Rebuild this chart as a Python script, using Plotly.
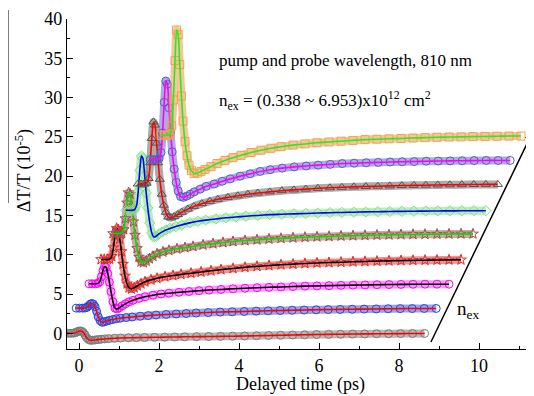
import plotly.graph_objects as go

# relative delay grid (ps) shared by every trace (measured from each trace's start)
t_rel = [0.00, 0.08, 0.16, 0.22, 0.27, 0.31, 0.35, 0.39, 0.43, 0.47, 0.51, 0.55, 0.60, 0.65, 0.70,
         0.76, 0.83, 0.91, 1.00, 1.10, 1.25, 1.40, 1.60, 1.80, 2.00, 2.25, 2.50, 2.75, 3.00, 3.30,
         3.60, 3.90, 4.20, 4.50, 4.80, 5.10, 5.40, 5.70, 6.00, 6.30, 6.60, 6.90, 7.20, 7.50, 7.80,
         8.10, 8.40, 8.70, 9.00]

# waterfall offsets: start time (ps) and vertical offset (1e-5) of each trace
t_start = [-0.36, -0.07, 0.25, 0.55, 0.85, 1.17, 1.47, 1.78, 2.05]
y_offset = [0.0, 3.2, 6.3, 9.4, 12.7, 15.65, 19.0, 22.1, 25.2]

# dT/T relative to each trace's baseline (1e-5), lowest to highest excitation density
s1 = [0, 0, 0, 0.02, 0.08, 0.18, 0.27, 0.3, 0.25, 0.1, -0.2, -0.55, -0.8, -0.9, -0.88, -0.85, -0.8,
      -0.76, -0.72, -0.68, -0.64, -0.6, -0.57, -0.55, -0.53, -0.51, -0.49, -0.47, -0.45, -0.43, -0.41,
      -0.39, -0.37, -0.34, -0.31, -0.28, -0.25, -0.22, -0.19, -0.16, -0.14, -0.12, -0.1, -0.08, -0.06,
      -0.05, -0.04, -0.03, -0.02]
s2 = [0, 0, 0, 0.02, 0.1, 0.3, 0.5, 0.6, 0.5, 0.2, -0.4, -1.1, -1.6, -1.8, -1.75, -1.65, -1.55, -1.45,
      -1.35, -1.28, -1.2, -1.12, -1.03, -0.95, -0.88, -0.8, -0.74, -0.68, -0.62, -0.56, -0.5, -0.46,
      -0.42, -0.38, -0.34, -0.3, -0.27, -0.24, -0.21, -0.18, -0.16, -0.14, -0.12, -0.1, -0.08, -0.06,
      -0.05, -0.04, -0.04]
s3 = [0, 0, 0, 0.05, 0.25, 0.9, 1.7, 2.2, 2.1, 1.3, 0.2, -1.0, -2.3, -3.1, -3.2, -3.05, -2.8, -2.55,
      -2.3, -2.1, -1.85, -1.65, -1.45, -1.3, -1.2, -1.08, -0.98, -0.88, -0.8, -0.72, -0.64, -0.57, -0.5,
      -0.45, -0.4, -0.35, -0.3, -0.27, -0.24, -0.2, -0.17, -0.15, -0.12, -0.1, -0.08, -0.06, -0.05,
      -0.05, -0.05]
s4 = [0, 0, 0, 0.05, 0.4, 1.5, 3.0, 3.95, 3.8, 2.6, 1.0, -0.6, -2.1, -3.1, -3.6, -3.75, -3.6, -3.35,
      -3.1, -2.85, -2.6, -2.4, -2.2, -2.05, -1.9, -1.75, -1.6, -1.45, -1.3, -1.15, -1.0, -0.88, -0.78,
      -0.68, -0.6, -0.52, -0.45, -0.4, -0.35, -0.3, -0.26, -0.22, -0.18, -0.15, -0.12, -0.1, -0.08,
      -0.06, -0.05]
s5 = [0, 0, 0, 0.1, 0.5, 1.9, 3.9, 5.2, 5.0, 3.4, 1.5, -0.2, -1.9, -3.0, -3.6, -3.7, -3.5, -3.2, -2.9,
      -2.6, -2.35, -2.15, -1.95, -1.8, -1.65, -1.45, -1.3, -1.15, -1.02, -0.9, -0.8, -0.7, -0.62, -0.55,
      -0.48, -0.42, -0.37, -0.32, -0.28, -0.24, -0.2, -0.17, -0.14, -0.12, -0.1, -0.08, -0.06, -0.05,
      -0.05]
s6 = [0, 0, 0, 0.1, 0.6, 2.4, 5.1, 6.9, 6.6, 4.5, 2.2, 0.3, -1.6, -2.9, -3.4, -3.3, -3.0, -2.75, -2.5,
      -2.3, -2.05, -1.85, -1.6, -1.4, -1.25, -1.1, -0.95, -0.85, -0.75, -0.65, -0.55, -0.5, -0.45, -0.4,
      -0.35, -0.3, -0.27, -0.24, -0.2, -0.18, -0.15, -0.13, -0.11, -0.1, -0.08, -0.07, -0.06, -0.05,
      -0.05]
s7 = [0, 0, 0, 0.1, 0.7, 2.7, 5.8, 7.9, 7.5, 5.2, 2.7, 0.6, -1.3, -2.7, -3.6, -4.2, -4.3, -4.15, -3.9,
      -3.6, -3.2, -2.85, -2.5, -2.2, -1.95, -1.7, -1.5, -1.3, -1.15, -1.0, -0.85, -0.75, -0.65, -0.55,
      -0.48, -0.42, -0.36, -0.32, -0.28, -0.24, -0.2, -0.17, -0.15, -0.12, -0.1, -0.08, -0.06, -0.05,
      -0.05]
s8 = [0, 0, 0, 0.1, 0.9, 3.4, 7.3, 10.0, 9.6, 6.6, 3.5, 1.0, -1.2, -2.9, -4.0, -4.7, -4.8, -4.65,
      -4.4, -4.1, -3.75, -3.4, -3.1, -2.75, -2.45, -2.1, -1.8, -1.5, -1.28, -1.08, -0.92, -0.8, -0.7,
      -0.6, -0.5, -0.45, -0.4, -0.35, -0.3, -0.27, -0.24, -0.2, -0.18, -0.16, -0.14, -0.12, -0.1, -0.1,
      -0.1]
s9 = [0, 0, 0, 0.1, 1.2, 4.5, 9.5, 13.4, 12.8, 9.0, 5.0, 1.8, -0.8, -2.6, -3.8, -4.5, -4.85, -4.8,
      -4.6, -4.35, -4.0, -3.6, -3.2, -2.85, -2.55, -2.2, -1.9, -1.65, -1.45, -1.25, -1.1, -0.95, -0.85,
      -0.75, -0.65, -0.55, -0.5, -0.45, -0.4, -0.35, -0.3, -0.25, -0.22, -0.2, -0.17, -0.15, -0.12,
      -0.1, -0.1]
series = [s1, s2, s3, s4, s5, s6, s7, s8, s9]

# styles: (marker symbol, marker colour, band rgba, fit-line colour)
styles = [
    ("circle-open", "#7a7a7a", "rgba(110,110,110,0.5)", "#ff0000"),
    ("circle-open", "#2f45d8", "rgba(47,69,216,0.5)", "#ff0000"),
    ("circle-open", "#ff00ff", "rgba(255,80,255,0.6)", "#000000"),
    ("star-open", "#e02a2a", "rgba(224,42,42,0.5)", "#000000"),
    ("star-open", "#a0504a", "rgba(160,80,74,0.5)", "#00dd00"),
    ("diamond-open", "#7fe07f", "rgba(127,224,127,0.55)", "#0000ff"),
    ("triangle-up-open", "#555555", "rgba(85,85,85,0.5)", "#ff0000"),
    ("circle-open", "#5a5ac8", "rgba(90,90,200,0.5)", "#ff00ff"),
    ("square-open", "#f0a050", "rgba(240,150,70,0.55)", "#22ee22"),
]

fig = go.Figure()
for s, t0, y0, st in zip(series, t_start, y_offset, styles):
    xs = [t + t0 for t in t_rel]
    ys = [v + y0 for v in s]
    sym, mc, band, lc = st
    fig.add_trace(go.Scatter(x=xs, y=ys, mode="lines",
                             line=dict(color=band, width=8, shape="spline", smoothing=0.6),
                             hoverinfo="skip", showlegend=False))
    fig.add_trace(go.Scatter(x=xs, y=ys, mode="markers",
                             marker=dict(symbol=sym, color=mc, size=8, line=dict(width=1, color=mc)),
                             showlegend=False))
    fig.add_trace(go.Scatter(x=xs, y=ys, mode="lines",
                             line=dict(color=lc, width=1.6, shape="spline", smoothing=0.6),
                             showlegend=False))

serif = "Liberation Serif"

fig.add_annotation(x=3.45, y=34.7, xref="x", yref="y", xanchor="left", yanchor="middle",
                   text="pump and probe wavelength, 810 nm", showarrow=False,
                   font=dict(family=serif, size=17, color="black"))
fig.add_annotation(x=3.45, y=29.6, xref="x", yref="y", xanchor="left", yanchor="middle",
                   text="n<sub>ex</sub> = (0.338 ~ 6.953)x10<sup>12</sup> cm<sup>2</sup>", showarrow=False,
                   font=dict(family=serif, size=17, color="black"))
# arrow showing increasing excitation density
fig.add_annotation(x=11.35, y=25.7, ax=8.78, ay=-1.3, xref="x", yref="y", axref="x", ayref="y",
                   text="", showarrow=True, arrowhead=2, arrowsize=1.2, arrowwidth=1.5,
                   arrowcolor="black")
fig.add_annotation(x=9.4, y=3.0, xref="x", yref="y", xanchor="left", yanchor="middle",
                   text="n<sub>ex</sub>", showarrow=False,
                   font=dict(family=serif, size=19, color="black"))

# axis titles
fig.add_annotation(x=0.5, y=-0.108, xref="paper", yref="paper", xanchor="center", yanchor="middle",
                   text="Delayed time (ps)", showarrow=False,
                   font=dict(family=serif, size=18, color="black"))
fig.add_annotation(x=-0.092, y=0.539, xref="paper", yref="paper", xanchor="center", yanchor="middle",
                   text="\u0394T/T (10<sup>-5</sup>)", textangle=-90, showarrow=False,
                   font=dict(family=serif, size=18, color="black"))
fig.add_shape(type="line", xref="paper", yref="paper", x0=-0.1263, x1=-0.1263, y0=0.4424, y1=1.027,
              line=dict(color="#555555", width=1.5))

# the page body adds an 8px margin, so the figure is shifted/shrunk by that amount
fig.update_layout(
    width=526, height=388,
    margin=dict(l=59, r=0, t=11, b=47),
    paper_bgcolor="white", plot_bgcolor="white",
    showlegend=False,
    font=dict(family=serif, size=17, color="black"),
    xaxis=dict(range=[-0.3, 11.375], showline=True, linecolor="black", linewidth=1.3,
               ticks="inside", ticklen=6, tickwidth=1.2, tickcolor="black",
               tick0=0, dtick=2, showgrid=False, zeroline=False,
               minor=dict(ticks="inside", ticklen=3, dtick=1, tick0=0, tickcolor="black", showgrid=False),
               tickfont=dict(family=serif, size=18)),
    yaxis=dict(range=[-2, 40], showline=True, linecolor="black", linewidth=1.3,
               ticks="inside", ticklen=6, tickwidth=1.2, tickcolor="black",
               tick0=0, dtick=5, showgrid=False, zeroline=False,
               minor=dict(ticks="inside", ticklen=3, dtick=2.5, tick0=0, tickcolor="black", showgrid=False),
               tickfont=dict(family=serif, size=18)),
)

fig.write_html("out.html")
